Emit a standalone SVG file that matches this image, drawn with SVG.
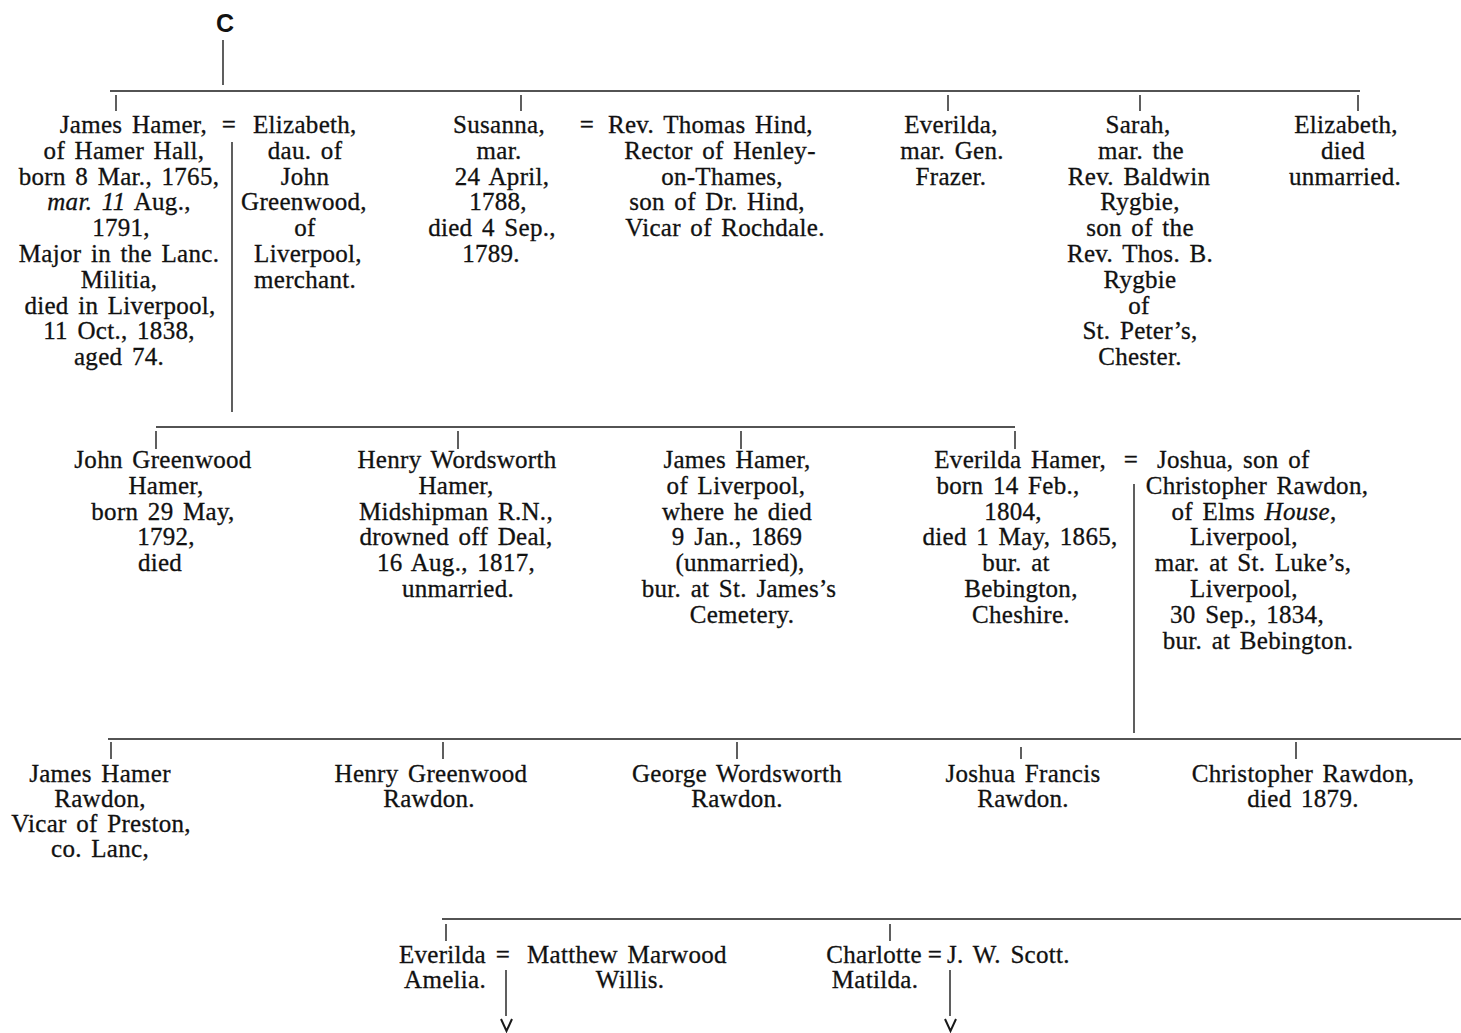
<svg xmlns="http://www.w3.org/2000/svg" width="1461" height="1033" viewBox="0 0 1461 1033">
<defs>
<style>
text { font-family: "Liberation Serif", "Times New Roman", serif; font-size: 25px; fill: #111; stroke: #111; stroke-width: 0.3px; letter-spacing: 0.3px; word-spacing: 3px; }
.c { text-anchor: middle; }
.e { text-anchor: end; }
.s { text-anchor: start; }
.it { font-style: italic; }
.top { font-family: "Liberation Sans", Arial, sans-serif; font-weight: bold; font-size: 25px; letter-spacing: 0; stroke-width: 0; }
.ln { stroke: #1a1a1a; stroke-width: 1.4; fill: none; }
.vee { stroke: #1a1a1a; stroke-width: 2; fill: none; }
</style>
</defs>
<rect width="1461" height="1033" fill="#fff"/>

<g id="connectors">
  <line class="ln" x1="223" y1="40" x2="223" y2="85"/>
  <line class="ln" x1="110" y1="91" x2="1360" y2="91"/>
  <line class="ln" x1="116" y1="95" x2="116" y2="111"/>
  <line class="ln" x1="521" y1="95" x2="521" y2="111"/>
  <line class="ln" x1="948" y1="95" x2="948" y2="111"/>
  <line class="ln" x1="1140" y1="95" x2="1140" y2="111"/>
  <line class="ln" x1="1358" y1="95" x2="1358" y2="111"/>
  <line class="ln" x1="232" y1="142" x2="232" y2="412"/>
  <line class="ln" x1="156" y1="427" x2="1015" y2="427"/>
  <line class="ln" x1="156" y1="431" x2="156" y2="449"/>
  <line class="ln" x1="458" y1="431" x2="458" y2="449"/>
  <line class="ln" x1="741" y1="431" x2="741" y2="449"/>
  <line class="ln" x1="1015" y1="431" x2="1015" y2="449"/>
  <line class="ln" x1="1134" y1="484" x2="1134" y2="733"/>
  <line class="ln" x1="108" y1="739" x2="1461" y2="739"/>
  <line class="ln" x1="111" y1="742" x2="111" y2="759"/>
  <line class="ln" x1="443" y1="742" x2="443" y2="759"/>
  <line class="ln" x1="737" y1="742" x2="737" y2="759"/>
  <line class="ln" x1="1021" y1="747" x2="1021" y2="759"/>
  <line class="ln" x1="1296" y1="742" x2="1296" y2="759"/>
  <line class="ln" x1="442" y1="919" x2="1461" y2="919"/>
  <line class="ln" x1="446" y1="924" x2="446" y2="941"/>
  <line class="ln" x1="890" y1="924" x2="890" y2="941"/>
  <line class="ln" x1="506" y1="970" x2="506" y2="1016"/>
  <polyline class="vee" points="501,1019 506.5,1031 512,1019"/>
  <line class="ln" x1="950" y1="970" x2="950" y2="1016"/>
  <polyline class="vee" points="945,1019 950.5,1031 956,1019"/>
</g>

<g id="node-c">
  <text class="top c" x="225" y="32">C</text>
</g>

<g id="node-james-hamer">
  <text class="e" x="207" y="133">James Hamer,</text>
  <text class="c" x="124" y="158.8">of Hamer Hall,</text>
  <text class="c" x="119" y="184.6">born 8 Mar., 1765,</text>
  <text class="c" x="119" y="210.4"><tspan class="it">mar. 11</tspan> Aug.,</text>
  <text class="c" x="121" y="236.2">1791,</text>
  <text class="c" x="119" y="262">Major in the Lanc.</text>
  <text class="c" x="119" y="287.8">Militia,</text>
  <text class="c" x="120" y="313.6">died in Liverpool,</text>
  <text class="c" x="119" y="339.4">11 Oct., 1838,</text>
  <text class="c" x="119" y="365.2">aged 74.</text>
</g>

<g id="node-elizabeth-greenwood">
  <text class="c" x="229" y="133">=</text>
  <text class="s" x="253" y="133">Elizabeth,</text>
  <text class="c" x="305" y="158.8">dau. of</text>
  <text class="c" x="305" y="184.6">John</text>
  <text class="c" x="304" y="210.4">Greenwood,</text>
  <text class="c" x="305" y="236.2">of</text>
  <text class="c" x="308" y="262">Liverpool,</text>
  <text class="c" x="305" y="287.8">merchant.</text>
</g>

<g id="node-susanna">
  <text class="e" x="545" y="133">Susanna,</text>
  <text class="c" x="499" y="158.8">mar.</text>
  <text class="c" x="502" y="184.6">24 April,</text>
  <text class="c" x="498" y="210.4">1788,</text>
  <text class="c" x="492" y="236.2">died 4 Sep.,</text>
  <text class="c" x="491" y="262">1789.</text>
</g>

<g id="node-thomas-hind">
  <text class="c" x="587" y="133">=</text>
  <text class="s" x="608" y="133">Rev. Thomas Hind,</text>
  <text class="c" x="720" y="158.8">Rector of Henley-</text>
  <text class="c" x="722" y="184.6">on-Thames,</text>
  <text class="c" x="717" y="210.4">son of Dr. Hind,</text>
  <text class="c" x="725" y="236.2">Vicar of Rochdale.</text>
</g>

<g id="node-everilda-frazer">
  <text class="c" x="951" y="133">Everilda,</text>
  <text class="c" x="952" y="158.8">mar. Gen.</text>
  <text class="c" x="951" y="184.6">Frazer.</text>
</g>

<g id="node-sarah">
  <text class="c" x="1138" y="133">Sarah,</text>
  <text class="c" x="1141" y="158.8">mar. the</text>
  <text class="c" x="1139" y="184.6">Rev. Baldwin</text>
  <text class="c" x="1140" y="210.4">Rygbie,</text>
  <text class="c" x="1140" y="236.2">son of the</text>
  <text class="c" x="1140" y="262">Rev. Thos. B.</text>
  <text class="c" x="1140" y="287.8">Rygbie</text>
  <text class="c" x="1139" y="313.6">of</text>
  <text class="c" x="1140" y="339.4">St. Peter’s,</text>
  <text class="c" x="1140" y="365.2">Chester.</text>
</g>

<g id="node-elizabeth-unmarried">
  <text class="c" x="1346" y="133">Elizabeth,</text>
  <text class="c" x="1343" y="158.8">died</text>
  <text class="c" x="1345" y="184.6">unmarried.</text>
</g>

<g id="node-john-greenwood">
  <text class="c" x="163" y="468">John Greenwood</text>
  <text class="c" x="166" y="493.8">Hamer,</text>
  <text class="c" x="163" y="519.6">born 29 May,</text>
  <text class="c" x="166" y="545.4">1792,</text>
  <text class="c" x="160" y="571.2">died</text>
</g>

<g id="node-henry-wordsworth">
  <text class="c" x="457" y="468">Henry Wordsworth</text>
  <text class="c" x="456" y="493.8">Hamer,</text>
  <text class="c" x="456" y="519.6">Midshipman R.N.,</text>
  <text class="c" x="456" y="545.4">drowned off Deal,</text>
  <text class="c" x="456" y="571.2">16 Aug., 1817,</text>
  <text class="c" x="458" y="597">unmarried.</text>
</g>

<g id="node-james-hamer-liverpool">
  <text class="c" x="737" y="468">James Hamer,</text>
  <text class="c" x="736" y="493.8">of Liverpool,</text>
  <text class="c" x="737" y="519.6">where he died</text>
  <text class="c" x="737" y="545.4">9 Jan., 1869</text>
  <text class="c" x="740" y="571.2">(unmarried),</text>
  <text class="c" x="739" y="597">bur. at St. James’s</text>
  <text class="c" x="742" y="622.8">Cemetery.</text>
</g>

<g id="node-everilda-hamer">
  <text class="e" x="1106" y="468">Everilda Hamer,</text>
  <text class="c" x="1008" y="493.8">born 14 Feb.,</text>
  <text class="c" x="1013" y="519.6">1804,</text>
  <text class="c" x="1020" y="545.4">died 1 May, 1865,</text>
  <text class="c" x="1016" y="571.2">bur. at</text>
  <text class="c" x="1021" y="597">Bebington,</text>
  <text class="c" x="1021" y="622.8">Cheshire.</text>
</g>

<g id="node-joshua-rawdon">
  <text class="c" x="1131" y="468">=</text>
  <text class="s" x="1157" y="468">Joshua, son of</text>
  <text class="c" x="1257" y="493.8">Christopher Rawdon,</text>
  <text class="c" x="1254" y="519.6">of Elms <tspan class="it">House</tspan>,</text>
  <text class="c" x="1244" y="545.4">Liverpool,</text>
  <text class="c" x="1253" y="571.2">mar. at St. Luke’s,</text>
  <text class="c" x="1244" y="597">Liverpool,</text>
  <text class="c" x="1247" y="622.8">30 Sep., 1834,</text>
  <text class="c" x="1258" y="648.6">bur. at Bebington.</text>
</g>

<g id="node-james-hamer-rawdon">
  <text class="c" x="100" y="782">James Hamer</text>
  <text class="c" x="100" y="807">Rawdon,</text>
  <text class="c" x="101" y="832">Vicar of Preston,</text>
  <text class="c" x="100" y="857">co. Lanc,</text>
</g>

<g id="node-henry-greenwood-rawdon">
  <text class="c" x="431" y="782">Henry Greenwood</text>
  <text class="c" x="429" y="807">Rawdon.</text>
</g>

<g id="node-george-wordsworth-rawdon">
  <text class="c" x="737" y="782">George Wordsworth</text>
  <text class="c" x="737" y="807">Rawdon.</text>
</g>

<g id="node-joshua-francis-rawdon">
  <text class="c" x="1023" y="782">Joshua Francis</text>
  <text class="c" x="1023" y="807">Rawdon.</text>
</g>

<g id="node-christopher-rawdon">
  <text class="c" x="1303" y="782">Christopher Rawdon,</text>
  <text class="c" x="1303" y="807">died 1879.</text>
</g>

<g id="node-everilda-amelia">
  <text class="e" x="486" y="963">Everilda</text>
  <text class="c" x="445" y="988">Amelia.</text>
</g>

<g id="node-matthew-willis">
  <text class="c" x="503" y="963">=</text>
  <text class="s" x="527" y="963">Matthew Marwood</text>
  <text class="c" x="630" y="988">Willis.</text>
</g>

<g id="node-charlotte-matilda">
  <text class="e" x="922" y="963">Charlotte</text>
  <text class="c" x="875" y="988">Matilda.</text>
</g>

<g id="node-jw-scott">
  <text class="c" x="935" y="963">=</text>
  <text class="s" x="947" y="963">J. W. Scott.</text>
</g>
</svg>
